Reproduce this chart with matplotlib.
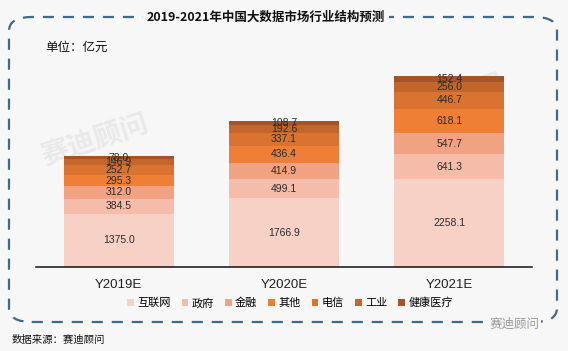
import matplotlib.pyplot as plt
from matplotlib.patches import FancyBboxPatch
import numpy as np

plt.rcParams['font.family'] = ['Noto Sans CJK SC', 'DejaVu Sans']

## Data
years = ["Y2019E", "Y2020E", "Y2021E"]
segments = ["互联网", "政府", "金融", "其他", "电信", "工业", "健康医疗"]
internet = [1375.0, 1766.9, 2258.1]
government = [384.5, 499.1, 641.3]
finance = [312.0, 414.9, 547.7]
other = [295.3, 436.4, 618.1]
telecom = [252.7, 337.1, 446.7]
industry = [146.9, 192.6, 256.0]
health = [78.0, 108.7, 152.4]
series = [internet, government, finance, other, telecom, industry, health]
colors = ["#F7D1C6", "#F5BCA9", "#F0A283", "#EE7F34", "#DA7230", "#C4662B", "#A5542A"]

W, H = 568, 351
fig = plt.figure(figsize=(W / 100, H / 100), dpi=100, facecolor="#F7F7F7")

# axes placed by pixel
ax = fig.add_axes([36 / W, (H - 267) / H, (532 - 36) / W, (267 - 70) / H])
ax.set_facecolor("none")

x = np.arange(len(years))
bottom = np.zeros(len(years))
handles = []
for name, vals, c in zip(segments, series, colors):
    vals = np.array(vals)
    b = ax.bar(x, vals, 0.665, bottom=bottom, color=c, label=name, zorder=2)
    handles.append(b)
    for xi, v, bt in zip(x, vals, bottom):
        ax.text(xi, bt + v / 2, f"{v:.1f}", ha="center", va="center",
                fontsize=7.5, color="#2b2b2b", family="Liberation Sans", zorder=3)
    bottom += vals

ax.set_xlim(-0.5, 2.5)
ax.set_ylim(0, 5065)
ax.set_yticks([])
ax.set_xticks(x)
ax.set_xticklabels(years, fontsize=9.5, family="Liberation Sans", color="#222")
ax.tick_params(axis="x", length=0, pad=9)
for s in ["top", "left", "right"]:
    ax.spines[s].set_visible(False)
ax.spines["bottom"].set_linewidth(1.1)
ax.spines["bottom"].set_color("#111")

# faint watermarks, behind the bars
for wx, wy in [(95, 140), (450, 100)]:
    ax.text(wx / W, 1 - wy / H, "赛迪顾问", fontsize=20, color="#e9e9e9", rotation=18,
            ha="center", va="center", zorder=1, fontweight="bold",
            transform=fig.transFigure, clip_on=False)

# dashed rounded frame
frame = FancyBboxPatch((9 / W, 1 - 322 / H), (557 - 9) / W, (322 - 17) / H,
                       boxstyle="round,pad=0,rounding_size=0.04",
                       transform=fig.transFigure, fill=False,
                       edgecolor="#3E6A8C", linewidth=1.6,
                       linestyle=(0, (5, 4)), zorder=1)
fig.patches.append(frame)

fig.text(266 / W, 1 - 17 / H, "2019-2021年中国大数据市场行业结构预测", fontsize=9,
         fontweight="bold", ha="center", va="center", color="#111",
         bbox=dict(facecolor="#F7F7F7", edgecolor="none", pad=3), zorder=5)
fig.text(45 / W, 1 - 47 / H, "单位：亿元", fontsize=9, ha="left", va="center", color="#111")
fig.text(12 / W, 1 - 340 / H, "数据来源：赛迪顾问", fontsize=7.5, ha="left", va="center",
         color="#111")
fig.text(515 / W, 1 - 324 / H, "赛迪顾问", fontsize=9, ha="center", va="center",
         color="#9a9a9a", bbox=dict(facecolor="#F7F7F7", edgecolor="none", pad=1), zorder=5)

fig.legend(handles=handles, labels=segments, loc="center", ncol=7,
           bbox_to_anchor=(290 / W, 1 - 303 / H), frameon=False, fontsize=8,
           handlelength=0.6, handleheight=0.6, handletextpad=0.3, columnspacing=1.0,
           borderaxespad=0)

fig.savefig("out.png", dpi=100, facecolor=fig.get_facecolor())
